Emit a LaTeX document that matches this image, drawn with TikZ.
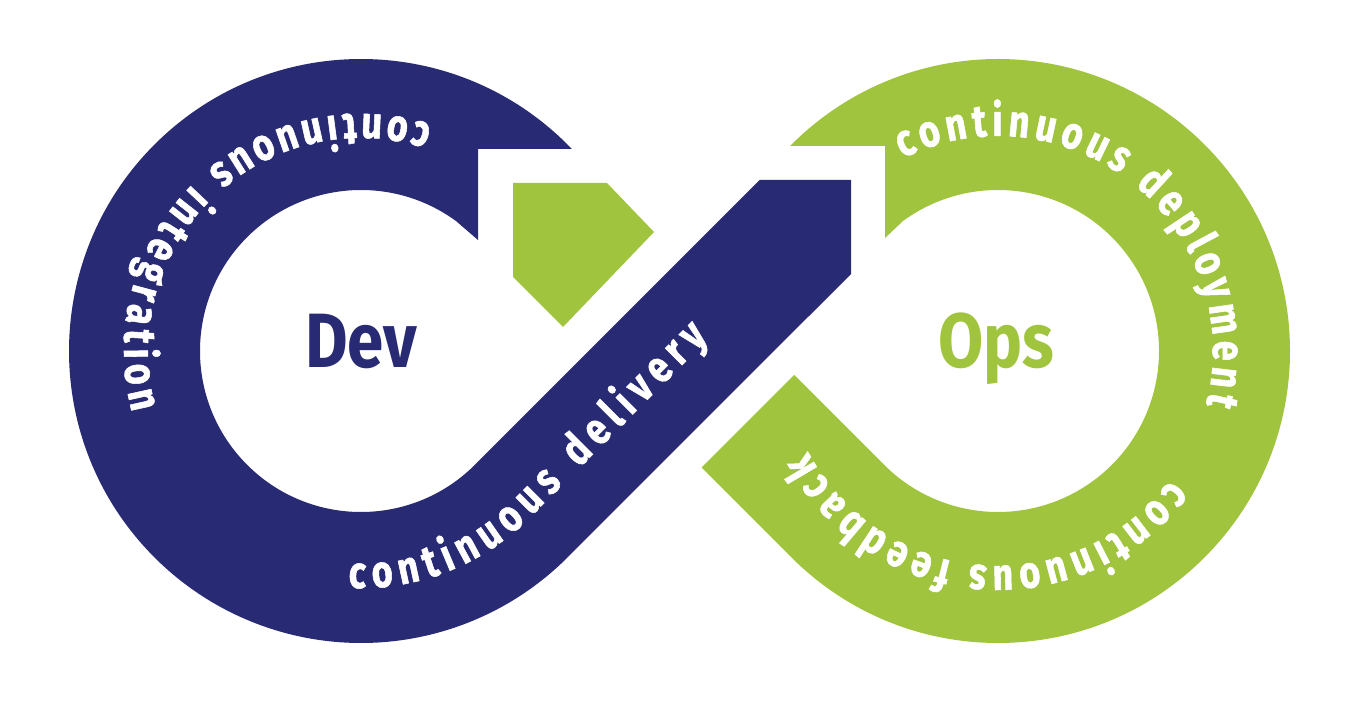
\documentclass[tikz,border=0pt]{standalone}
\usepackage{fontspec}
\setmainfont{Fira Sans}
\newfontfamily\ringfontfam{Fira Sans}[FakeStretch=0.8,FakeBold=1.2]
\newfontfamily\bigfontfam{Fira Sans}[FakeStretch=0.85]
\usetikzlibrary{decorations.text,calc}
\definecolor{navyc}{HTML}{282A73}
\definecolor{greenc}{HTML}{A0C43E}
\newcommand\ringtxt{\ringfontfam\bfseries\fontsize{45}{45}\selectfont}
\newcommand\bigtxt{\bigfontfam\bfseries\fontsize{77}{77}\selectfont}
\tikzset{
  ringtext/.style={decorate,decoration={text along path,text={|\ringtxt|#1},text align={fit to path},text color=white}},
  biglabel/.style={anchor=base,inner sep=0pt,font=\bigtxt}
}
\begin{document}
\begin{tikzpicture}[x=1pt,y=1pt]
\useasboundingbox (0,0) rectangle (1360,702);
\coordinate (C1) at (361,351);
\coordinate (C2) at (998,351);
% navy ring + band
\fill[navyc] ($(C1)+(43.8:292)$) arc[start angle=43.8,end angle=315,radius=292]
  -- (851,428) -- (851,522) -- (759.6,522)
  -- ($(C1)+(315:161)$) arc[start angle=315,end angle=53.8,radius=161]
  -- (478,462) -- (478,553) -- cycle;
% green ring + band
\fill[greenc] (701.5,234.5) -- ($(C2)+(225:292)$) arc[start angle=225,end angle=495.4,radius=292]
  -- (885,556) -- (885,464)
  -- ($(C2)+(126.2:161)$) arc[start angle=486.2,end angle=225,radius=161]
  -- (794.2,327.2) -- cycle;
% green arrow tip
\fill[greenc] (513,519) -- (607,519) -- (654,470) -- (563,375) -- (513,425) -- cycle;
% texts
\path[ringtext={continuous integration}] ($(C1)+(72.5:237)$) arc[start angle=72.5,end angle=195,radius=237];
\path[ringtext={continuous deployment}] ($(C2)+(116.3:215)$) arc[start angle=116.3,end angle=-14.5,radius=215];
\path[ringtext={continuous feedback}] ($(C2)+(-36.8:215)$) arc[start angle=-36.8,end angle=-152.1,radius=215];
\path[ringtext={continuous delivery}] ($(C1)+(-93:237)$) arc[start angle=-93,end angle=-45,radius=237] -- ++(180.3,180.3);
\node[biglabel,text=navyc] (dev) at (361,334) {Dev};
\node[biglabel,text=greenc] (ops) at (996,334) {Ops};
\end{tikzpicture}
\end{document}
